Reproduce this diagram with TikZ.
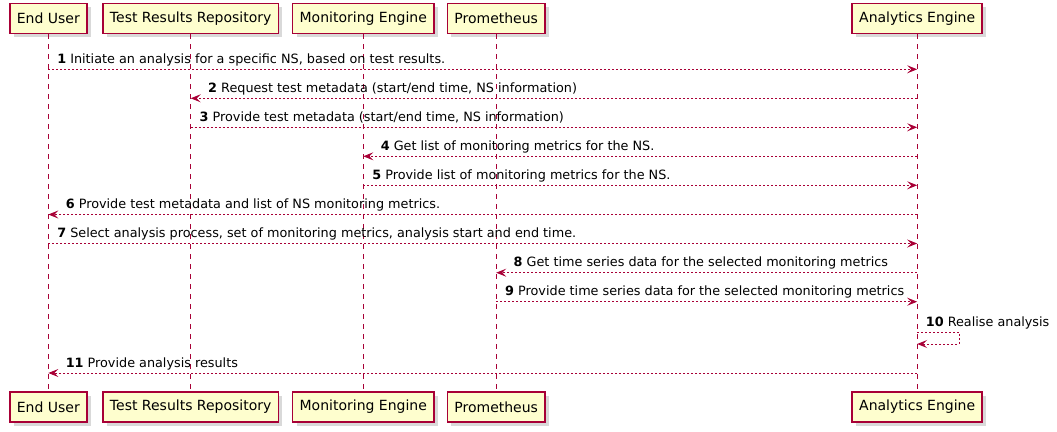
\documentclass[tikz,border=0pt]{standalone}
\usepackage{fontspec}
\setmainfont{DejaVu Sans}
\usepackage{xcolor}
\usetikzlibrary{positioning}
\usetikzlibrary{shadows}
\usetikzlibrary{arrows.meta}
\definecolor{umlfill}{HTML}{FEFECE}
\definecolor{umlred}{HTML}{A80036}
\tikzset{>={Stealth[length=10pt,width=8pt,inset=4pt]}}

\begin{document}
\begin{tikzpicture}
	[x=1pt,y=-1pt,
	actor/.style={rectangle,draw=umlred,fill=umlfill,line width=1.5pt,minimum height=30pt,inner xsep=7pt,
		font=\fontsize{14}{16}\selectfont,drop shadow={shadow xshift=4pt,shadow yshift=-4pt,opacity=0.3}},
	life/.style={draw=umlred,line width=1pt,dash pattern=on 5pt off 5pt},
	msg/.style={->,draw=umlred,line width=1pt,dash pattern=on 2pt off 2pt},
	lbl/.style={anchor=base west,inner sep=0pt,font=\fontsize{12.8}{15}\selectfont,text=black}]
	\useasboundingbox (0,0) rectangle (1057,431);
	\node [actor] (eu) at (48.3,18.3) {End User};
	\node [actor] (trr) at (190.7,18.3) {Test Results Repository};
	\node [actor] (me) at (363.3,18.3) {Monitoring Engine};
	\node [actor] (pr) at (496.2,18.3) {Prometheus};
	\node [actor] (ae) at (917.2,18.3) {Analytics Engine};
	\node [actor] (eub) [below=357pt of eu] {End User};
	\node [actor] (trrb) [below=357pt of trr] {Test Results Repository};
	\node [actor] (meb) [below=357pt of me] {Monitoring Engine};
	\node [actor] (prb) [below=357pt of pr] {Prometheus};
	\node [actor] (aeb) [below=357pt of ae] {Analytics Engine};
	\foreach \a in {eu,trr,me,pr,ae}
		\draw [life] (\a.south) -- (\a b.north);
	% message rows
	\foreach \i/\y in {1/69.3,2/98.3,3/127.3,4/156.3,5/185.3,6/214.5,7/243.5,8/272.7,9/301.7,10/332,10b/344,11/373}
		\coordinate (r\i) at (0,\y);
	\draw [msg] (eu |- r1) -- (ae |- r1) node [lbl,pos=0,xshift=8.5pt,yshift=6pt] {\textbf{1} Initiate an analysis for a specific NS, based on test results.};
	\draw [msg] (ae |- r2) -- (trr |- r2) node [lbl,pos=1,xshift=17pt,yshift=6pt] {\textbf{2} Request test metadata (start/end time, NS information)};
	\draw [msg] (trr |- r3) -- (ae |- r3) node [lbl,pos=0,xshift=8.5pt,yshift=6pt] {\textbf{3} Provide test metadata (start/end time, NS information)};
	\draw [msg] (ae |- r4) -- (me |- r4) node [lbl,pos=1,xshift=17pt,yshift=6pt] {\textbf{4} Get list of monitoring metrics for the NS.};
	\draw [msg] (me |- r5) -- (ae |- r5) node [lbl,pos=0,xshift=8.5pt,yshift=6pt] {\textbf{5} Provide list of monitoring metrics for the NS.};
	\draw [msg] (ae |- r6) -- (eu |- r6) node [lbl,pos=1,xshift=17pt,yshift=6pt] {\textbf{6} Provide test metadata and list of NS monitoring metrics.};
	\draw [msg] (eu |- r7) -- (ae |- r7) node [lbl,pos=0,xshift=8.5pt,yshift=6pt] {\textbf{7} Select analysis process, set of monitoring metrics, analysis start and end time.};
	\draw [msg] (ae |- r8) -- (pr |- r8) node [lbl,pos=1,xshift=17pt,yshift=6pt] {\textbf{8} Get time series data for the selected monitoring metrics};
	\draw [msg] (pr |- r9) -- (ae |- r9) node [lbl,pos=0,xshift=8.5pt,yshift=6pt] {\textbf{9} Provide time series data for the selected monitoring metrics};
	\draw [msg] (ae |- r10) -| ([xshift=42pt]ae |- r10b) -- (ae |- r10b);
	\node [lbl,xshift=8.5pt,yshift=6pt] (l10) at (ae |- r10) {\textbf{10} Realise analysis};
	\draw [msg] (ae |- r11) -- (eu |- r11) node [lbl,pos=1,xshift=17pt,yshift=6pt] {\textbf{11} Provide analysis results};
\end{tikzpicture}
\end{document}
